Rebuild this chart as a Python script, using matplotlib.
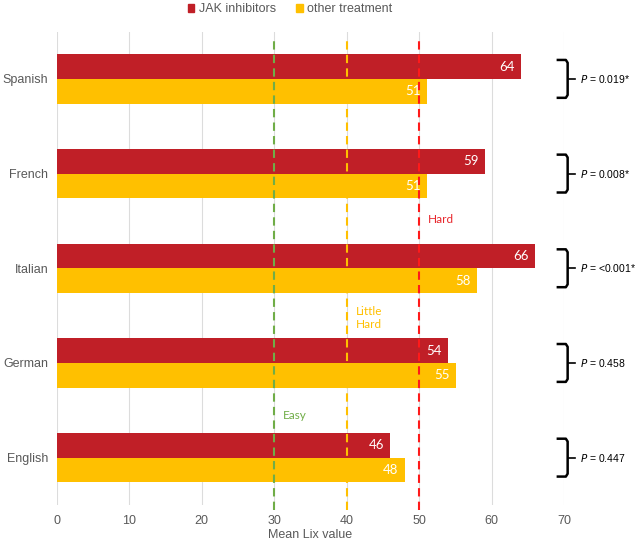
import numpy as np
import matplotlib
matplotlib.use("Agg")
import matplotlib.pyplot as plt
from matplotlib.patches import Patch

languages = ["English", "German", "Italian", "French", "Spanish"]
jak = [46, 54, 66, 59, 64]
other = [48, 55, 58, 51, 51]
p_labels = ["0.447", "0.458", "<0.001*", "0.008*", "0.019*"]
thresholds = [30, 40, 50]
threshold_names = ["Easy", "Little\nHard", "Hard"]

red = "#C01F27"
yellow = "#FFC000"
line_cols = ["#70AD47", "#FFC000", "#FF1A1A"]
text_cols = ["#70AD47", "#FFC000", "#E8252B"]
gray = "#595959"

plt.rcParams["font.family"] = ["Liberation Sans", "DejaVu Sans"]

fig = plt.figure(figsize=(6.36, 5.42), dpi=100)
ax = fig.add_axes([0.0891, 0.0683, 0.7983, 0.8735])

y = np.arange(len(languages))
h = 0.26
ax.barh(y + h / 2, jak, height=h, color=red, zorder=2)
ax.barh(y - h / 2, other, height=h, color=yellow, zorder=2)

# value labels inside bar ends
for yi, v in zip(y + h / 2, jak):
    ax.annotate(str(v), (v, yi), xytext=(-4.5, 0), textcoords="offset points",
                ha="right", va="center", color="white", fontsize=9.5,
                family="Lato", zorder=4)
for yi, v in zip(y - h / 2, other):
    ax.annotate(str(v), (v, yi), xytext=(-4.5, 0), textcoords="offset points",
                ha="right", va="center", color="white", fontsize=9.5,
                family="Lato", zorder=4)

# readability thresholds
label_y = [0.44, 1.476, 2.51]
for t, c, tc, name, ly in zip(thresholds, line_cols, text_cols, threshold_names, label_y):
    ax.plot([t, t], [-0.553, 4.443], color=c, lw=1.5, ls=(0, (4, 2.5)),
            clip_on=False, zorder=3)
    ax.text(t + 1.2, ly, name, color=tc, fontsize=8.5, family="Lato",
            ha="left", va="center", linespacing=1.25)

# brackets with p values
for yi, p in zip(y, p_labels):
    bx = [69.1, 70.2, 70.45, 70.45, 70.2, 69.1]
    by = [yi + 0.2, yi + 0.2, yi + 0.17, yi - 0.17, yi - 0.2, yi - 0.2]
    ax.plot(bx, by, color="black", lw=1.8, clip_on=False, solid_joinstyle="round")
    ax.plot([70.45, 71.5], [yi, yi], color="black", lw=1.2, clip_on=False)
    ax.text(72.1, yi, "$P$ = " + p, fontsize=7.5, ha="left", va="center",
            color="black")

ax.set_xlim(0, 70)
ax.set_ylim(-0.5, 4.5)
ax.set_xticks(range(0, 71, 10))
ax.set_yticks(y)
ax.set_yticklabels(languages)
ax.tick_params(axis="both", length=0, labelsize=9, labelcolor=gray)
ax.tick_params(axis="y", pad=6)
ax.tick_params(axis="x", pad=7)
ax.set_xlabel("Mean Lix value", fontsize=9, color=gray, labelpad=2)
ax.grid(axis="x", color="#DCDCDC", lw=0.8, zorder=0)
ax.set_axisbelow(True)
for s in ax.spines.values():
    s.set_visible(False)

handles = [Patch(color=red), Patch(color=yellow)]
fig.legend(handles, ["JAK inhibitors", "other treatment"], loc="center",
           bbox_to_anchor=(0.456, 0.983), ncol=2, frameon=False, fontsize=9,
           handlelength=0.55, handleheight=0.55, handletextpad=0.35,
           columnspacing=1.6, labelcolor=gray)

fig.savefig("out.png", dpi=100)
